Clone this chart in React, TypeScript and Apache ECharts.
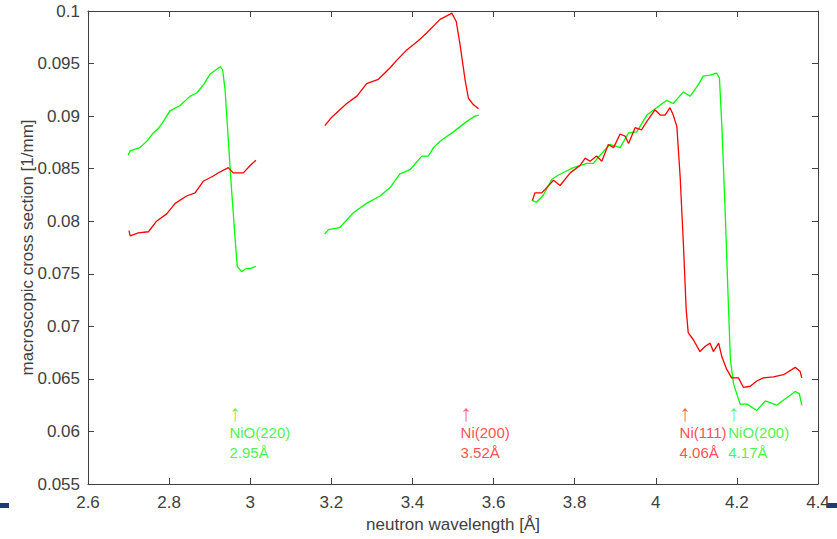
import React, { useEffect, useRef } from "react";
import * as echarts from "echarts";

const xTicks = { min: 2.6, max: 4.4, interval: 0.2 };
const yTicks = { min: 0.055, max: 0.1, interval: 0.005 };

const greenSeg1: [number, number][] = [
  [2.699, 0.0863], [2.704, 0.0867], [2.728, 0.0870], [2.745, 0.0876], [2.761, 0.0884], [2.775, 0.0889],
  [2.786, 0.0895], [2.802, 0.0905], [2.827, 0.0910], [2.852, 0.0919], [2.868, 0.0922], [2.885, 0.0930],
  [2.901, 0.0940], [2.926, 0.0947], [2.932, 0.0944], [2.938, 0.0925], [2.946, 0.0877], [2.954, 0.0830],
  [2.963, 0.0782], [2.968, 0.0757], [2.979, 0.0752], [2.990, 0.0755], [3.000, 0.0755], [3.014, 0.0757],
];
const redSeg1: [number, number][] = [
  [2.701, 0.0791], [2.704, 0.0786], [2.724, 0.0789], [2.749, 0.0790], [2.769, 0.0800], [2.794, 0.0807],
  [2.815, 0.0817], [2.843, 0.0824], [2.864, 0.0827], [2.884, 0.0838], [2.909, 0.0843], [2.926, 0.0847],
  [2.946, 0.0851], [2.958, 0.0846], [2.983, 0.0846], [3.000, 0.0853], [3.014, 0.0858],
];
const redSeg2: [number, number][] = [
  [3.184, 0.0891], [3.201, 0.0899], [3.221, 0.0906], [3.238, 0.0912], [3.263, 0.0919], [3.287, 0.0931],
  [3.316, 0.0935], [3.345, 0.0946], [3.361, 0.0953], [3.386, 0.0963], [3.415, 0.0972], [3.435, 0.0979],
  [3.468, 0.0992], [3.493, 0.0997], [3.497, 0.0998], [3.508, 0.0990], [3.517, 0.0969], [3.530, 0.0934],
  [3.538, 0.0917], [3.550, 0.0911], [3.563, 0.0907],
];
const greenSeg2: [number, number][] = [
  [3.184, 0.0788], [3.193, 0.0792], [3.221, 0.0794], [3.254, 0.0808], [3.287, 0.0817], [3.320, 0.0824],
  [3.345, 0.0832], [3.369, 0.0845], [3.394, 0.0849], [3.423, 0.0862], [3.439, 0.0862], [3.452, 0.0870],
  [3.468, 0.0876], [3.501, 0.0885], [3.534, 0.0895], [3.554, 0.0900], [3.564, 0.0901],
];
const greenSeg3: [number, number][] = [
  [3.694, 0.0820], [3.706, 0.0818], [3.723, 0.0825], [3.744, 0.0840], [3.760, 0.0844], [3.781, 0.0848],
  [3.797, 0.0851], [3.830, 0.0855], [3.846, 0.0855], [3.863, 0.0863], [3.887, 0.0873], [3.912, 0.0870],
  [3.933, 0.0884], [3.953, 0.0885], [3.978, 0.0901], [4.002, 0.0908], [4.027, 0.0915], [4.043, 0.0912],
  [4.068, 0.0923], [4.085, 0.0919], [4.105, 0.0930], [4.117, 0.0938], [4.134, 0.0939], [4.150, 0.0941],
  [4.157, 0.0936], [4.163, 0.0890], [4.171, 0.0811], [4.178, 0.0732], [4.184, 0.0668], [4.192, 0.0645],
  [4.208, 0.0626], [4.225, 0.0626], [4.249, 0.0620], [4.270, 0.0629], [4.298, 0.0625], [4.323, 0.0632],
  [4.344, 0.0638], [4.354, 0.0636], [4.360, 0.0625],
];
const redSeg3: [number, number][] = [
  [3.696, 0.0820], [3.702, 0.0827], [3.719, 0.0827], [3.731, 0.0832], [3.748, 0.0839], [3.764, 0.0834],
  [3.789, 0.0846], [3.813, 0.0853], [3.826, 0.0860], [3.838, 0.0857], [3.854, 0.0862], [3.867, 0.0857],
  [3.883, 0.0873], [3.896, 0.0870], [3.912, 0.0883], [3.924, 0.0881], [3.933, 0.0874], [3.949, 0.0889],
  [3.965, 0.0887], [3.978, 0.0895], [3.998, 0.0906], [4.011, 0.0901], [4.023, 0.0901], [4.035, 0.0908],
  [4.043, 0.0901], [4.052, 0.0890], [4.060, 0.0843], [4.068, 0.0779], [4.075, 0.0716], [4.080, 0.0694],
  [4.093, 0.0687], [4.109, 0.0676], [4.122, 0.0681], [4.134, 0.0684], [4.142, 0.0676], [4.155, 0.0684],
  [4.163, 0.0671], [4.175, 0.0659], [4.187, 0.0651], [4.204, 0.0651], [4.216, 0.0642], [4.233, 0.0643],
  [4.249, 0.0648], [4.265, 0.0651], [4.290, 0.0652], [4.315, 0.0654], [4.344, 0.0661], [4.356, 0.0657],
  [4.360, 0.0651],
];

const annotationNames = ["NiO(220)", "Ni(200)", "Ni(111)", "NiO(200)"];
const annotationValues = ["2.95Å", "3.52Å", "4.06Å", "4.17Å"];
const annotationX = [2.95, 3.52, 4.06, 4.18];
const annotationY = 0.0627;
const annotationColors = ["#22ee22", "#ff2222", "#ff2222", "#22ee22"];

const RED = "#ff0000";
const GREEN = "#00ff00";

export default function App() {
  const ref = useRef<HTMLDivElement>(null);
  useEffect(() => {
    if (!ref.current) return;
    const chart = echarts.init(ref.current, undefined, { renderer: "svg" });
    const axisColor = "#404040";
    const font = "Liberation Sans, Arial, Helvetica, sans-serif";
    const lineSeries = (data: [number, number][], color: string) => ({
      type: "line",
      data,
      showSymbol: false,
      symbol: "none",
      lineStyle: { color, width: 1.3 },
      itemStyle: { color },
      silent: true,
      z: 3,
    });
    const annSeries = annotationNames.map((name, i) => ({
      type: "scatter",
      data: [[annotationX[i], annotationY]],
      symbolSize: 1,
      itemStyle: { color: "rgba(0,0,0,0)" },
      silent: true,
      label: {
        show: true,
        position: [0, 0],
        align: "left",
        verticalAlign: "top",
        formatter: `{a|↑}\n{b|${name}}\n{b|${annotationValues[i]}}`,
        rich: {
          a: { color: annotationColors[i], opacity: 0.7, fontSize: 23, lineHeight: 20, fontFamily: "Liberation Sans" },
          b: { color: annotationColors[i], fontSize: 15, lineHeight: 20, fontFamily: font },
        },
      },
    }));
    chart.setOption({
      animation: false,
      backgroundColor: "#ffffff",
      textStyle: { fontFamily: font },
      grid: { left: 88, right: 19, top: 11, bottom: 55 },
      xAxis: [
        {
          type: "value",
          ...xTicks,
          name: "neutron wavelength [Å]",
          nameLocation: "middle",
          nameGap: 32,
          nameMoveOverlap: false,
          nameTextStyle: { color: axisColor, fontSize: 17, fontFamily: font },
          axisLine: { show: true, onZero: false, lineStyle: { color: axisColor, width: 1 } },
          axisTick: { show: true, inside: true, length: 6, lineStyle: { color: axisColor } },
          axisLabel: { color: axisColor, fontSize: 17, margin: 10, fontFamily: font },
          splitLine: { show: false },
        },
        {
          type: "value",
          ...xTicks,
          position: "top",
          axisLine: { show: true, onZero: false, lineStyle: { color: axisColor, width: 1 } },
          axisTick: { show: true, inside: true, length: 6, lineStyle: { color: axisColor } },
          axisLabel: { show: false },
          splitLine: { show: false },
        },
      ],
      yAxis: [
        {
          type: "value",
          ...yTicks,
          name: "macroscopic cross section [1/mm]",
          nameLocation: "middle",
          nameGap: 52,
          nameMoveOverlap: false,
          nameTextStyle: { color: axisColor, fontSize: 17, fontFamily: font },
          axisLine: { show: true, onZero: false, lineStyle: { color: axisColor, width: 1 } },
          axisTick: { show: true, inside: true, length: 6, lineStyle: { color: axisColor } },
          axisLabel: { color: axisColor, fontSize: 17, margin: 8, fontFamily: font },
          splitLine: { show: false },
        },
        {
          type: "value",
          ...yTicks,
          position: "right",
          axisLine: { show: true, onZero: false, lineStyle: { color: axisColor, width: 1 } },
          axisTick: { show: true, inside: true, length: 6, lineStyle: { color: axisColor } },
          axisLabel: { show: false },
          splitLine: { show: false },
        },
      ],
      graphic: [
        { type: "rect", shape: { x: 0, y: 503, width: 9, height: 5 }, style: { fill: "#1f3a73" } },
        { type: "rect", shape: { x: 827, y: 503, width: 10, height: 5 }, style: { fill: "#1f3a73" } },
      ],
      series: [
        lineSeries(greenSeg1, GREEN),
        lineSeries(redSeg1, RED),
        lineSeries(redSeg2, RED),
        lineSeries(greenSeg2, GREEN),
        lineSeries(greenSeg3, GREEN),
        lineSeries(redSeg3, RED),
        ...annSeries,
      ],
    });
    return () => chart.dispose();
  }, []);
  return <div ref={ref} style={{ width: 837, height: 539, position: "absolute", left: 0, top: 0 }} />;
}
